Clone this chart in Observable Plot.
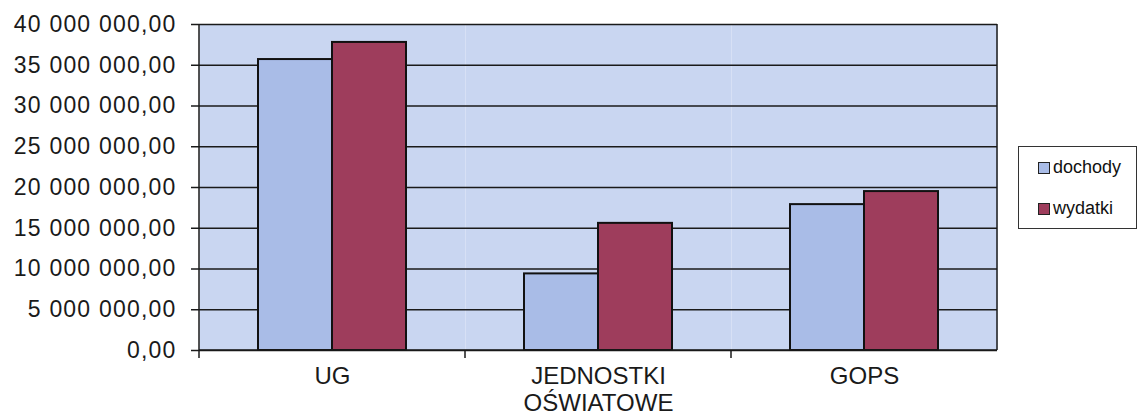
<!DOCTYPE html>
<html>
<head>
<meta charset="utf-8">
<script src="https://cdn.jsdelivr.net/npm/d3@7"></script>
<script src="https://cdn.jsdelivr.net/npm/@observablehq/plot@0.6"></script>
<style>
  html, body { margin: 0; padding: 0; background: #fff; }
  #wrap { position: relative; width: 1139px; height: 418px; font-family: "Liberation Sans", Arial, sans-serif; }
  #wrap svg { position: absolute; left: 0; top: 0; }
  #legend { position: absolute; left: 1018px; top: 146px; width: 119px; height: 83px; border: 1.5px solid #333; box-sizing: border-box; background: #fff; font-size: 18px; color: #111; }
  #legend .item { position: absolute; left: 19px; display: flex; align-items: center; }
  #legend .sw { width: 10px; height: 10px; border: 1.5px solid #222; margin-right: 3px; }
  g[aria-label="y-axis tick label"] text { letter-spacing: 1.2px; }
</style>
</head>
<body>
<div id="wrap">
  <div id="legend"></div>
</div>
<script>
const categories = ["UG", "JEDNOSTKI\nOŚWIATOWE", "GOPS"];
const series = ["dochody", "wydatki"];
const dochody = [35700000, 9400000, 17900000];
const wydatki = [37800000, 15600000, 19500000];
const yTicks = [0, 5000000, 10000000, 15000000, 20000000, 25000000, 30000000, 35000000, 40000000];
const colors = ["#a9bce7", "#9e3d5c"];
const background = "#c9d6f1";

const rows = [];
categories.forEach((c, i) => {
  rows.push({category: c, series: series[0], value: dochody[i]});
  rows.push({category: c, series: series[1], value: wydatki[i]});
});

const fmt = d => d3.format(",.2f")(d).replace(/,/g, " ").replace(".", ",");

const width = 1139, height = 418;
const marginLeft = 198, marginRight = 142, marginTop = 24, marginBottom = 68;

const chart = Plot.plot({
  width, height, marginLeft, marginRight, marginTop, marginBottom,
  style: {fontFamily: "'Liberation Sans', Arial, sans-serif", color: "#1a1a1a", background: "transparent"},
  fx: {domain: categories, padding: 0, axis: null, label: null},
  x: {domain: series, paddingInner: 0, paddingOuter: 0.78, axis: null, label: null},
  y: {domain: [0, 40000000], axis: null, label: null},
  color: {domain: series, range: colors},
  marks: [
    Plot.frame({fill: background, stroke: "none"}),
    Plot.gridY(yTicks, {stroke: "#1a1a1a", strokeOpacity: 1, strokeWidth: 1.5}),
    Plot.barY(rows, {fx: "category", x: "series", y: "value", fill: "series", stroke: "#111", strokeWidth: 2}),
    Plot.axisY(yTicks, {label: null, tickSize: 8, tickPadding: 15, tickFormat: fmt, fontSize: 23, stroke: "#1a1a1a", strokeWidth: 1.5}),
    Plot.axisFx({label: null, anchor: "bottom", tickSize: 0, tickPadding: 15, fontSize: 24, lineHeight: 1.1})
  ]
});

document.getElementById("wrap").appendChild(chart);

// axis lines and category separator ticks, positioned through the fx scale
const fx = chart.scale("fx");
const svg = d3.select(chart);
const g = svg.append("g").attr("stroke", "#1a1a1a").attr("stroke-width", 1.5);
const left = fx.apply(categories[0]);
const right = fx.apply(categories[categories.length - 1]) + fx.bandwidth;
const y0 = height - marginBottom, y1 = marginTop;
g.append("line").attr("x1", left).attr("x2", left).attr("y1", y1).attr("y2", y0 + 8);
g.append("line").attr("x1", right).attr("x2", right).attr("y1", y1).attr("y2", y0);
g.append("line").attr("x1", left).attr("x2", right).attr("y1", y0).attr("y2", y0);
categories.slice(1).forEach(c => {
  const x = fx.apply(c);
  g.append("line").attr("x1", x).attr("x2", x).attr("y1", y0).attr("y2", y0 + 8);
});

// legend
const legend = document.getElementById("legend");
series.forEach((s, i) => {
  const item = document.createElement("div");
  item.className = "item";
  item.style.top = (i === 0 ? 10 : 51) + "px";
  const sw = document.createElement("span");
  sw.className = "sw";
  sw.style.background = colors[i];
  const t = document.createElement("span");
  t.textContent = s;
  item.appendChild(sw);
  item.appendChild(t);
  legend.appendChild(item);
});
</script>
</body>
</html>
